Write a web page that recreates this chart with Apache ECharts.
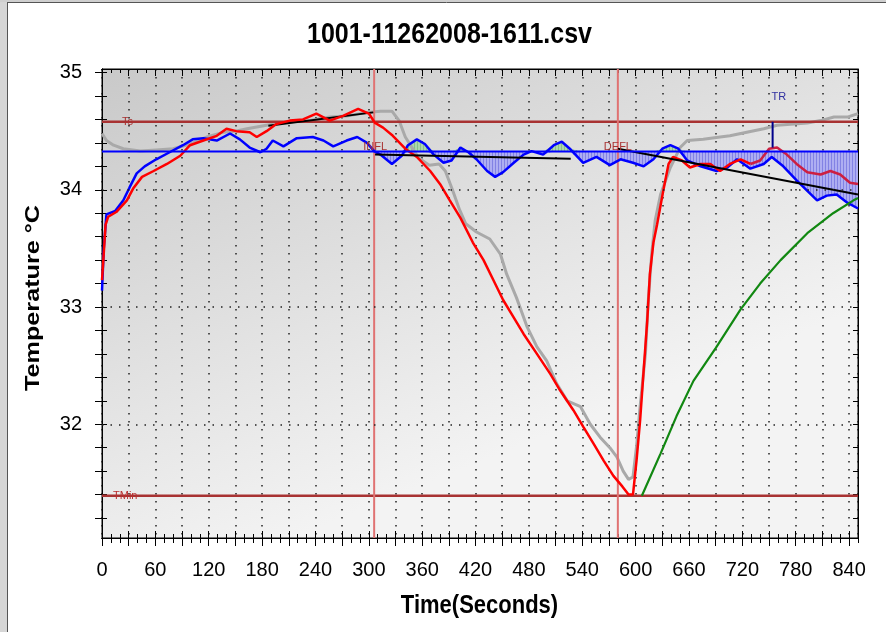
<!DOCTYPE html>
<html><head><meta charset="utf-8">
<script src="https://cdn.jsdelivr.net/npm/echarts@6/dist/echarts.min.js"></script>
<style>html,body{margin:0;padding:0;background:#fff}#c{width:886px;height:632px}</style>
</head><body><div id="c"></div>
<script>
// ---------- text ----------
const chartTitle = '1001-11262008-1611.csv';
const xName = 'Time(Seconds)';
const yName = 'Temperature °C';

// ---------- axes ----------
const xMin = 0, xMax = 850;
const yMin = 31.03, yMax = 35.03;
const xLabelValues = [0, 60, 120, 180, 240, 300, 360, 420, 480, 540, 600, 660, 720, 780, 840];
const yLabelValues = [32, 33, 34, 35];
const yGridValues = [32, 33, 34];

// ---------- reference values ----------
const tsValue = 34.58;
const baseValue = 34.326;
const tMinValue = 31.39;
const inflTime = 306;
const deflTime = 580;
const trTime = 754;
const trPeak = 34.36;

// ---------- series (time s, temperature C) ----------
const grayPts = [[0,34.48],[5,34.42],[13,34.38],[24,34.35],[43,34.33],[61,34.34],[80,34.35],[99,34.39],[118,34.45],[136,34.49],[150,34.5],[163,34.52],[185,34.55],[211,34.58],[234,34.59],[256,34.62],[275,34.63],[298,34.66],[313,34.67],[326,34.67],[334,34.59],[341,34.45],[356,34.27],[368,34.21],[379,34.22],[386,34.16],[394,34.0],[402,33.83],[409,33.71],[421,33.64],[436,33.58],[448,33.45],[455,33.28],[466,33.08],[478,32.83],[489,32.66],[500,32.54],[511,32.35],[523,32.2],[538,32.15],[549,32.0],[560,31.89],[571,31.8],[579,31.72],[586,31.6],[592,31.53],[597,31.55],[601,31.81],[605,32.15],[611,32.6],[614,33.03],[618,33.45],[622,33.74],[628,33.96],[639,34.19],[650,34.36],[658,34.42],[676,34.43],[695,34.45],[706,34.46],[725,34.49],[744,34.52],[759,34.55],[778,34.56],[793,34.57],[808,34.59],[823,34.62],[838,34.62],[850,34.65]];

const redPts = [[0,33.23],[1.5,33.4],[4,33.7],[7,33.77],[16,33.81],[28,33.91],[35,34.01],[45,34.11],[58,34.16],[73,34.22],[88,34.29],[99,34.38],[114,34.42],[129,34.46],[140,34.52],[151,34.5],[166,34.49],[174,34.45],[185,34.5],[196,34.56],[211,34.59],[226,34.6],[241,34.65],[256,34.59],[271,34.63],[288,34.69],[300,34.65],[307,34.57],[316,34.53],[327,34.46],[341,34.35],[354,34.28],[369,34.16],[380,34.05],[391,33.91],[403,33.76],[417,33.55],[429,33.4],[440,33.23],[451,33.06],[463,32.91],[474,32.77],[489,32.6],[504,32.43],[515,32.29],[530,32.12],[541,31.98],[553,31.83],[564,31.69],[575,31.56],[585,31.47],[592,31.4],[597,31.4],[601,31.69],[605,32.03],[609,32.46],[613,32.88],[616,33.28],[620,33.55],[624,33.7],[631,33.99],[637,34.22],[642,34.28],[652,34.25],[661,34.19],[673,34.22],[684,34.22],[695,34.16],[706,34.22],[718,34.26],[729,34.22]];

const crimsonPts = [[729,34.22],[740,34.25],[750,34.35],[759,34.36],[770,34.3],[781,34.22],[793,34.15],[808,34.13],[819,34.16],[830,34.13],[841,34.06],[850,34.05]];

const bluePts = [[0,33.14],[2,33.5],[5,33.79],[15,33.82],[24,33.91],[31,34.02],[39,34.14],[48,34.2],[61,34.26],[76,34.32],[91,34.38],[102,34.43],[114,34.44],[129,34.42],[144,34.48],[155,34.43],[166,34.36],[178,34.32],[185,34.35],[192,34.42],[204,34.37],[219,34.44],[237,34.45],[249,34.42],[260,34.37],[275,34.42],[287,34.45],[298,34.4],[306,34.33],[313,34.3],[326,34.22],[337,34.29],[344,34.38],[354,34.43],[363,34.39],[373,34.3],[384,34.23],[393,34.25],[403,34.36],[412,34.32],[421,34.26],[433,34.16],[442,34.11],[451,34.15],[463,34.23],[474,34.3],[483,34.33],[496,34.3],[508,34.38],[517,34.41],[526,34.35],[541,34.23],[556,34.28],[571,34.21],[583,34.26],[597,34.23],[609,34.2],[620,34.26],[630,34.35],[639,34.38],[648,34.35],[658,34.25],[673,34.2],[691,34.16],[703,34.19],[714,34.26],[729,34.18],[744,34.22],[753,34.28],[766,34.2],[781,34.08],[793,33.99],[804,33.91],[815,33.95],[826,33.96],[838,33.89],[850,33.84]];

const greenPts = [[607,31.39],[628,31.75],[646,32.07],[665,32.37],[690,32.65],[718,32.98],[740,33.2],[763,33.4],[793,33.63],[822,33.8],[845,33.91],[850,33.93]];

const trend1 = [[187,34.546],[305,34.66]];
const trend2 = [[307,34.30],[527,34.265]];
const trend3 = [[580,34.35],[850,33.96]];

// ---------- build ----------
const FONT = "'Liberation Sans', Arial, Helvetica, sans-serif";
const xMajorTicks = []; for (let t = 0; t <= 840; t += 30) xMajorTicks.push(t);
const xMinorTicks = []; for (let t = 0; t <= 850; t += 10) xMinorTicks.push(t);
const yTicks = []; for (let i = 156; i <= 175; i++) yTicks.push(+(i * 0.2).toFixed(1));

function makePattern(bg, line) {
  const c = document.createElement('canvas'); c.width = 3; c.height = 4;
  const g = c.getContext('2d'); g.fillStyle = bg; g.fillRect(0, 0, 3, 4);
  g.fillStyle = line; g.fillRect(0, 0, 1, 4); return c;
}
const lineBlack = {color: '#000', width: 1};
function xAx(pos, tickVals, len, inside, extra) {
  return Object.assign({
    type: 'value', min: xMin, max: xMax, position: pos,
    axisLine: {show: true, onZero: false, lineStyle: lineBlack},
    axisTick: {show: !!tickVals, customValues: tickVals || undefined, length: len || 5, inside: !!inside, lineStyle: lineBlack},
    axisLabel: {show: false}, splitLine: {show: false}
  }, extra || {});
}
function yAx(pos, len, inside, extra) {
  return Object.assign({
    type: 'value', min: yMin, max: yMax, position: pos,
    axisLine: {show: true, onZero: false, lineStyle: lineBlack},
    axisTick: {show: true, customValues: yTicks, length: len, inside: inside, lineStyle: lineBlack},
    axisLabel: {show: false}, splitLine: {show: false}
  }, extra || {});
}

const xAxes = [
  xAx('bottom', xMajorTicks, 8, false, {axisLabel: {show: true, customValues: xLabelValues, color: '#000', fontSize: 20, fontFamily: FONT, margin: 22}}),
  xAx('bottom', xMinorTicks, 5, false),
  xAx('bottom', xMajorTicks, 7, true),
  xAx('bottom', xMinorTicks, 4, true),
  xAx('top', xMajorTicks, 7, true),
  xAx('top', xMinorTicks, 4, true),
  {type: 'value', min: xMin, max: xMax, interval: 30, position: 'bottom',
   axisLine: {show: false}, axisTick: {show: false}, axisLabel: {show: false},
   splitLine: {show: true, lineStyle: {type: [1.5, 6.5], color: '#222', width: 1.5}}}
];
const yAxes = [
  yAx('left', 7, false, {axisLabel: {show: true, customValues: yLabelValues, color: '#000', fontSize: 20, fontFamily: FONT, margin: 20}}),
  yAx('left', 5, true),
  yAx('right', 5, true)
];

const bgGrad = new echarts.graphic.LinearGradient(0, 0, 0.25, 1, [
  {offset: 0, color: '#c9c9c9'}, {offset: 1, color: '#f3f3f3'}
]);

const fillStart = bluePts.filter(p => p[0] >= inflTime);
const belowFill = fillStart.map(p => [p[0], Math.min(p[1], baseValue)]);
const aboveFill = fillStart.map(p => [p[0], Math.max(p[1], baseValue)]);

function lineSeries(name, data, color, width, extra) {
  return Object.assign({
    name, type: 'line', data, showSymbol: false, symbol: 'none', smooth: false,
    lineStyle: {color, width}, xAxisIndex: 0, yAxisIndex: 0, animation: false, silent: true
  }, extra || {});
}
const dotted = {type: [1.5, 7], color: '#222', width: 1.5};

const series = [
  lineSeries('grid', grayPts, '#a8a8a8', 0, {
    lineStyle: {width: 0, opacity: 0},
    markLine: {silent: true, symbol: ['none', 'none'], animation: false, label: {show: false},
      lineStyle: dotted, data: yGridValues.map(v => ({yAxis: v}))}
  }),
  lineSeries('below', belowFill, '#0000ff', 0, {
    lineStyle: {width: 0, opacity: 0},
    areaStyle: {origin: baseValue, opacity: 1, color: {image: makePattern('#aeaef2', '#8282e4'), repeat: 'repeat'}}
  }),
  lineSeries('above', aboveFill, '#00aa00', 0, {
    lineStyle: {width: 0, opacity: 0},
    areaStyle: {origin: baseValue, opacity: 1, color: {image: makePattern('#acd6ac', '#88c088'), repeat: 'repeat'}}
  }),
  lineSeries('gray', grayPts, '#a9a9a9', 3),
  lineSeries('ts', [[xMin, tsValue], [xMax, tsValue]], '#a83232', 2.5),
  lineSeries('tmin', [[xMin, tMinValue], [xMax, tMinValue]], '#a83232', 2.5),
  lineSeries('infl', [[inflTime, yMin], [inflTime, yMax]], '#e07272', 2),
  lineSeries('defl', [[deflTime, yMin], [deflTime, yMax]], '#e07272', 2),
  lineSeries('trend1', trend1, '#000', 2),
  lineSeries('blue', bluePts, '#0000ff', 2.5),
  lineSeries('red', redPts, '#ff0000', 2.5),
  lineSeries('crimson', crimsonPts, '#cc1f42', 2.5),
  lineSeries('green', greenPts, '#118811', 2.2),
  lineSeries('trend2', trend2, '#000', 2),
  lineSeries('trend3', trend3, '#000', 2),
  lineSeries('base', [[xMin, baseValue], [xMax, baseValue]], '#0000ff', 2),
  lineSeries('tr', [[trTime, tsValue], [trTime, trPeak]], '#00008b', 2)
];

const option = {
  animation: false,
  backgroundColor: '#ffffff',
  grid: {left: 102, right: 28, top: 69, bottom: 94, show: true, backgroundColor: bgGrad, borderColor: '#000', borderWidth: 1},
  xAxis: xAxes,
  yAxis: yAxes,
  series
};

const chart = echarts.init(document.getElementById('c'), null, {renderer: 'canvas'});
chart.setOption(option);

const P = (t, v) => chart.convertToPixel({gridIndex: 0}, [t, v]);
const small = '11px ' + FONT;
const pTs = P(xMin, tsValue), pMin = P(xMin, tMinValue);
const pInfl = P(inflTime, baseValue), pDefl = P(deflTime, baseValue);
const pTr = P(trTime, tsValue);

chart.setOption({graphic: [
  {type: 'rect', shape: {x: 0, y: 0, width: 7, height: 632}, style: {fill: '#d6d6d6'}, z: 10},
  {type: 'rect', shape: {x: 0, y: 0, width: 886, height: 2}, style: {fill: '#cfcfcf'}, z: 10},
  {type: 'line', shape: {x1: 7.5, y1: 2, x2: 7.5, y2: 632}, style: {stroke: '#555', lineWidth: 1}, z: 10},
  {type: 'line', shape: {x1: 7, y1: 2.5, x2: 886, y2: 2.5}, style: {stroke: '#555', lineWidth: 1}, z: 10},
  {type: 'text', x: 449.5, y: 35, scaleY: 1.2, z: 10,
   style: {text: chartTitle, font: 'bold 25px ' + FONT, fill: '#000', textAlign: 'center', textVerticalAlign: 'middle'}},
  {type: 'text', x: 479.5, y: 606, scaleY: 1.2, z: 10,
   style: {text: xName, font: 'bold 22px ' + FONT, fill: '#000', textAlign: 'center', textVerticalAlign: 'middle'}},
  {type: 'text', x: 33, y: 298, rotation: Math.PI / 2, scaleX: 1.2, z: 10,
   style: {text: yName, font: 'bold 21px ' + FONT, fill: '#000', textAlign: 'center', textVerticalAlign: 'middle'}},
  {type: 'text', x: pTs[0] + 20, y: pTs[1], z: 10,
   style: {text: 'Ts', font: small, fill: '#a83232', textAlign: 'left', textVerticalAlign: 'middle'}},
  {type: 'text', x: pMin[0] + 11, y: pMin[1], z: 10,
   style: {text: 'TMin', font: small, fill: '#b83030', textAlign: 'left', textVerticalAlign: 'middle'}},
  {type: 'text', x: pInfl[0] - 11, y: pInfl[1] - 5, z: 10,
   style: {text: 'INFL', font: small, fill: '#a83232', textAlign: 'left', textVerticalAlign: 'middle'}},
  {type: 'text', x: pDefl[0] - 14, y: pDefl[1] - 5, z: 10,
   style: {text: 'DEFL', font: small, fill: '#a83232', textAlign: 'left', textVerticalAlign: 'middle'}},
  {type: 'text', x: pTr[0] - 1, y: pTr[1] - 25, z: 10,
   style: {text: 'TR', font: small, fill: '#3030a0', textAlign: 'left', textVerticalAlign: 'middle'}}
]});
</script>
</body></html>
